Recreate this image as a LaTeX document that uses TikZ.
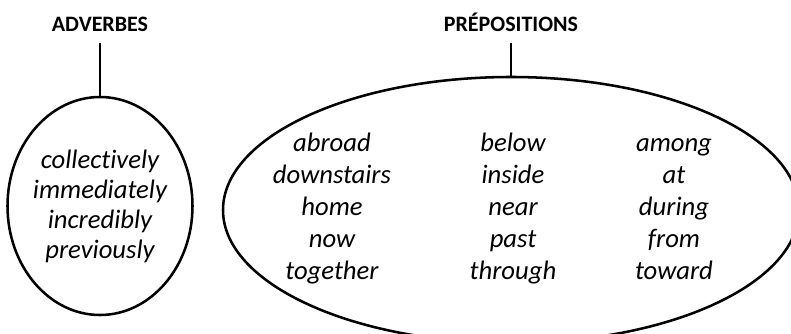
\documentclass[tikz,border=0pt]{standalone}
\usepackage{fontspec}
\setmainfont{Carlito}[Ligatures={NoCommon,NoContextual,NoRare}]
\usetikzlibrary{shapes.geometric}
\begin{document}
\begin{tikzpicture}[x=0.75pt, y=-0.75pt,
    heading/.style={font=\bfseries\fontsize{16.5}{18}\selectfont, anchor=base, inner xsep=2pt, inner ysep=8.5pt},
    group/.style={ellipse, draw, line width=1.9pt, inner sep=0pt},
    words/.style={align=center, font=\itshape\fontsize{20}{24}\selectfont},
    link/.style={line width=1.9pt}
]
\useasboundingbox (0,0) rectangle (791,334);

% Adverbes
\node[heading] (adv) at (100,31.5) {ADVERBES};
\node[group, minimum width=138.75pt, minimum height=163.5pt] (advset) at (100,206) {};
\node[words, font=\itshape\fontsize{20}{22.5}\selectfont] (advlist) at (advset) {collectively\\immediately\\incredibly\\previously};

% Prepositions
\node[heading] (prep) at (511,31.5) {PRÉPOSITIONS};
\node[group, minimum width=432pt, minimum height=199.5pt] (prepset) at (511,210) {};
\node[words] (col1) at (332,209) {abroad\\downstairs\\home\\now\\together};
\node[words] (col2) at (513,209) {below\\inside\\near\\past\\through};
\node[words] (col3) at (674,209) {among\\at\\during\\from\\toward};

% Links
\draw[link] (adv.south) -- (advset.north);
\draw[link] (prep.south) -- (prepset.north);

\end{tikzpicture}
\end{document}
